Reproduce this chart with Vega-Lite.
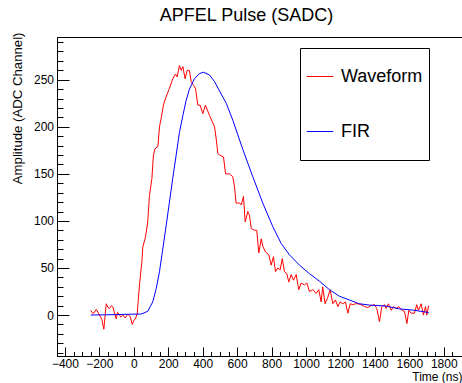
{
  "$schema": "https://vega.github.io/schema/vega-lite/v6.json",
  "width": 405,
  "height": 319,
  "autosize": {"type": "none"},
  "padding": {"left": 57, "top": 37, "right": 0, "bottom": 27},
  "title": {"text": "APFEL Pulse (SADC)", "fontSize": 18, "fontWeight": "normal", "font": "Liberation Sans", "color": "#000", "anchor": "middle", "frame": "group", "dx": -13, "dy": 19, "offset": 12, "baseline": "alphabetic"},
  "config": {
    "font": "Liberation Sans",
    "view": {"stroke": "#000", "strokeWidth": 1},
    "axis": {"grid": false, "domainColor": "#000", "tickColor": "#000", "labelColor": "#000", "titleColor": "#000", "labelFont": "Liberation Sans", "titleFont": "Liberation Sans", "labelFontSize": 12, "titleFontSize": 12, "titleFontWeight": "normal"}
  },
  "datasets": {
    "pulse": [
      {"t": -250, "v": 5, "series": "Waveform"},
      {"t": -240, "v": 2, "series": "Waveform"},
      {"t": -232, "v": 2, "series": "Waveform"},
      {"t": -218, "v": 6, "series": "Waveform"},
      {"t": -199, "v": 0, "series": "Waveform"},
      {"t": -185, "v": -5, "series": "Waveform"},
      {"t": -174, "v": -15, "series": "Waveform"},
      {"t": -160, "v": 12, "series": "Waveform"},
      {"t": -150, "v": 8, "series": "Waveform"},
      {"t": -141, "v": 7, "series": "Waveform"},
      {"t": -130, "v": 10, "series": "Waveform"},
      {"t": -122, "v": 9, "series": "Waveform"},
      {"t": -112, "v": 2, "series": "Waveform"},
      {"t": -102, "v": -4, "series": "Waveform"},
      {"t": -95, "v": 3, "series": "Waveform"},
      {"t": -87, "v": 1, "series": "Waveform"},
      {"t": -75, "v": -2, "series": "Waveform"},
      {"t": -64, "v": 0, "series": "Waveform"},
      {"t": -50, "v": -3, "series": "Waveform"},
      {"t": -35, "v": 1, "series": "Waveform"},
      {"t": -20, "v": -2, "series": "Waveform"},
      {"t": -9, "v": -10, "series": "Waveform"},
      {"t": 0, "v": -6, "series": "Waveform"},
      {"t": 12, "v": -3, "series": "Waveform"},
      {"t": 20, "v": 2, "series": "Waveform"},
      {"t": 33, "v": 32, "series": "Waveform"},
      {"t": 47, "v": 57, "series": "Waveform"},
      {"t": 52, "v": 72, "series": "Waveform"},
      {"t": 68, "v": 83, "series": "Waveform"},
      {"t": 81, "v": 99, "series": "Waveform"},
      {"t": 91, "v": 127, "series": "Waveform"},
      {"t": 105, "v": 145, "series": "Waveform"},
      {"t": 114, "v": 170, "series": "Waveform"},
      {"t": 124, "v": 177, "series": "Waveform"},
      {"t": 140, "v": 179, "series": "Waveform"},
      {"t": 149, "v": 200, "series": "Waveform"},
      {"t": 159, "v": 209, "series": "Waveform"},
      {"t": 172, "v": 223, "series": "Waveform"},
      {"t": 188, "v": 232, "series": "Waveform"},
      {"t": 207, "v": 241, "series": "Waveform"},
      {"t": 226, "v": 251, "series": "Waveform"},
      {"t": 242, "v": 256, "series": "Waveform"},
      {"t": 252, "v": 253, "series": "Waveform"},
      {"t": 265, "v": 265, "series": "Waveform"},
      {"t": 275, "v": 260, "series": "Waveform"},
      {"t": 285, "v": 264, "series": "Waveform"},
      {"t": 298, "v": 251, "series": "Waveform"},
      {"t": 310, "v": 260, "series": "Waveform"},
      {"t": 323, "v": 260, "series": "Waveform"},
      {"t": 333, "v": 248, "series": "Waveform"},
      {"t": 347, "v": 244, "series": "Waveform"},
      {"t": 358, "v": 241, "series": "Waveform"},
      {"t": 372, "v": 223, "series": "Waveform"},
      {"t": 385, "v": 223, "series": "Waveform"},
      {"t": 401, "v": 214, "series": "Waveform"},
      {"t": 416, "v": 223, "series": "Waveform"},
      {"t": 440, "v": 212, "series": "Waveform"},
      {"t": 469, "v": 200, "series": "Waveform"},
      {"t": 478, "v": 188, "series": "Waveform"},
      {"t": 488, "v": 172, "series": "Waveform"},
      {"t": 498, "v": 170, "series": "Waveform"},
      {"t": 521, "v": 168, "series": "Waveform"},
      {"t": 533, "v": 150, "series": "Waveform"},
      {"t": 556, "v": 150, "series": "Waveform"},
      {"t": 575, "v": 147, "series": "Waveform"},
      {"t": 585, "v": 136, "series": "Waveform"},
      {"t": 594, "v": 119, "series": "Waveform"},
      {"t": 614, "v": 119, "series": "Waveform"},
      {"t": 624, "v": 117, "series": "Waveform"},
      {"t": 637, "v": 126, "series": "Waveform"},
      {"t": 647, "v": 99, "series": "Waveform"},
      {"t": 662, "v": 110, "series": "Waveform"},
      {"t": 672, "v": 106, "series": "Waveform"},
      {"t": 682, "v": 92, "series": "Waveform"},
      {"t": 701, "v": 90, "series": "Waveform"},
      {"t": 714, "v": 90, "series": "Waveform"},
      {"t": 726, "v": 66, "series": "Waveform"},
      {"t": 740, "v": 81, "series": "Waveform"},
      {"t": 749, "v": 73, "series": "Waveform"},
      {"t": 765, "v": 67, "series": "Waveform"},
      {"t": 784, "v": 64, "series": "Waveform"},
      {"t": 798, "v": 53, "series": "Waveform"},
      {"t": 811, "v": 62, "series": "Waveform"},
      {"t": 823, "v": 46, "series": "Waveform"},
      {"t": 836, "v": 50, "series": "Waveform"},
      {"t": 850, "v": 48, "series": "Waveform"},
      {"t": 862, "v": 60, "series": "Waveform"},
      {"t": 875, "v": 46, "series": "Waveform"},
      {"t": 889, "v": 44, "series": "Waveform"},
      {"t": 900, "v": 35, "series": "Waveform"},
      {"t": 914, "v": 43, "series": "Waveform"},
      {"t": 927, "v": 37, "series": "Waveform"},
      {"t": 943, "v": 43, "series": "Waveform"},
      {"t": 958, "v": 27, "series": "Waveform"},
      {"t": 972, "v": 34, "series": "Waveform"},
      {"t": 991, "v": 32, "series": "Waveform"},
      {"t": 1005, "v": 34, "series": "Waveform"},
      {"t": 1020, "v": 25, "series": "Waveform"},
      {"t": 1040, "v": 27, "series": "Waveform"},
      {"t": 1059, "v": 23, "series": "Waveform"},
      {"t": 1074, "v": 27, "series": "Waveform"},
      {"t": 1088, "v": 14, "series": "Waveform"},
      {"t": 1097, "v": 30, "series": "Waveform"},
      {"t": 1111, "v": 12, "series": "Waveform"},
      {"t": 1127, "v": 19, "series": "Waveform"},
      {"t": 1140, "v": 27, "series": "Waveform"},
      {"t": 1156, "v": 12, "series": "Waveform"},
      {"t": 1171, "v": 16, "series": "Waveform"},
      {"t": 1185, "v": 9, "series": "Waveform"},
      {"t": 1198, "v": 14, "series": "Waveform"},
      {"t": 1214, "v": 12, "series": "Waveform"},
      {"t": 1229, "v": 14, "series": "Waveform"},
      {"t": 1243, "v": 2, "series": "Waveform"},
      {"t": 1257, "v": 12, "series": "Waveform"},
      {"t": 1272, "v": 11, "series": "Waveform"},
      {"t": 1287, "v": 12, "series": "Waveform"},
      {"t": 1301, "v": 12, "series": "Waveform"},
      {"t": 1320, "v": 11, "series": "Waveform"},
      {"t": 1340, "v": 9, "series": "Waveform"},
      {"t": 1359, "v": 8, "series": "Waveform"},
      {"t": 1378, "v": 10, "series": "Waveform"},
      {"t": 1398, "v": 11, "series": "Waveform"},
      {"t": 1411, "v": 7, "series": "Waveform"},
      {"t": 1427, "v": -7, "series": "Waveform"},
      {"t": 1440, "v": 9, "series": "Waveform"},
      {"t": 1456, "v": 11, "series": "Waveform"},
      {"t": 1465, "v": 7, "series": "Waveform"},
      {"t": 1479, "v": 12, "series": "Waveform"},
      {"t": 1495, "v": 5, "series": "Waveform"},
      {"t": 1508, "v": 9, "series": "Waveform"},
      {"t": 1524, "v": 7, "series": "Waveform"},
      {"t": 1539, "v": 9, "series": "Waveform"},
      {"t": 1558, "v": 5, "series": "Waveform"},
      {"t": 1572, "v": 4, "series": "Waveform"},
      {"t": 1586, "v": -9, "series": "Waveform"},
      {"t": 1597, "v": 5, "series": "Waveform"},
      {"t": 1611, "v": 2, "series": "Waveform"},
      {"t": 1630, "v": 2, "series": "Waveform"},
      {"t": 1643, "v": 11, "series": "Waveform"},
      {"t": 1653, "v": 5, "series": "Waveform"},
      {"t": 1669, "v": 12, "series": "Waveform"},
      {"t": 1682, "v": 0, "series": "Waveform"},
      {"t": 1694, "v": 9, "series": "Waveform"},
      {"t": 1702, "v": 0, "series": "Waveform"},
      {"t": 1712, "v": 10, "series": "Waveform"},
      {"t": -250, "v": 0, "series": "FIR"},
      {"t": -100, "v": 0.5, "series": "FIR"},
      {"t": 0, "v": 1, "series": "FIR"},
      {"t": 40, "v": 1, "series": "FIR"},
      {"t": 55, "v": 2, "series": "FIR"},
      {"t": 81, "v": 4, "series": "FIR"},
      {"t": 110, "v": 14, "series": "FIR"},
      {"t": 130, "v": 28, "series": "FIR"},
      {"t": 149, "v": 46, "series": "FIR"},
      {"t": 169, "v": 71, "series": "FIR"},
      {"t": 188, "v": 95, "series": "FIR"},
      {"t": 207, "v": 120, "series": "FIR"},
      {"t": 226, "v": 145, "series": "FIR"},
      {"t": 246, "v": 170, "series": "FIR"},
      {"t": 265, "v": 194, "series": "FIR"},
      {"t": 285, "v": 212, "series": "FIR"},
      {"t": 304, "v": 228, "series": "FIR"},
      {"t": 323, "v": 240, "series": "FIR"},
      {"t": 352, "v": 251, "series": "FIR"},
      {"t": 381, "v": 256.5, "series": "FIR"},
      {"t": 405, "v": 258, "series": "FIR"},
      {"t": 440, "v": 255, "series": "FIR"},
      {"t": 469, "v": 248, "series": "FIR"},
      {"t": 498, "v": 238, "series": "FIR"},
      {"t": 537, "v": 225, "series": "FIR"},
      {"t": 575, "v": 207, "series": "FIR"},
      {"t": 633, "v": 176, "series": "FIR"},
      {"t": 691, "v": 147, "series": "FIR"},
      {"t": 749, "v": 119, "series": "FIR"},
      {"t": 807, "v": 94, "series": "FIR"},
      {"t": 856, "v": 76, "series": "FIR"},
      {"t": 904, "v": 64, "series": "FIR"},
      {"t": 962, "v": 53, "series": "FIR"},
      {"t": 1020, "v": 44, "series": "FIR"},
      {"t": 1078, "v": 36, "series": "FIR"},
      {"t": 1136, "v": 27, "series": "FIR"},
      {"t": 1194, "v": 20, "series": "FIR"},
      {"t": 1252, "v": 16, "series": "FIR"},
      {"t": 1310, "v": 12, "series": "FIR"},
      {"t": 1368, "v": 10.6, "series": "FIR"},
      {"t": 1466, "v": 9.5, "series": "FIR"},
      {"t": 1543, "v": 6.5, "series": "FIR"},
      {"t": 1620, "v": 5.3, "series": "FIR"},
      {"t": 1713, "v": 2.7, "series": "FIR"}
    ]
  },
  "data": {"name": "pulse"},
  "resolve": {"axis": {"x": "independent", "y": "independent"}},
  "layer": [
    {
      "mark": {"type": "line", "strokeWidth": 1, "interpolate": "linear"},
      "encoding": {
        "x": {"field": "t", "type": "quantitative", "scale": {"domain": [-446, 1906], "nice": false, "zero": false},
          "axis": {"orient": "bottom", "values": [-400, -200, 0, 200, 400, 600, 800, 1000, 1200, 1400, 1600, 1800], "format": "d", "tickSize": -9, "labelPadding": 11, "labelFlush": false, "labelOverlap": false, "title": "Time (ns)", "titleAnchor": "end", "titleAlign": "right", "titleBaseline": "alphabetic", "titleX": 405, "titleY": 24}},
        "y": {"field": "v", "type": "quantitative", "scale": {"domain": [-43.5, 295.4], "nice": false, "zero": false},
          "axis": {"orient": "left", "values": [0, 50, 100, 150, 200, 250], "format": "d", "tickSize": -12, "labelPadding": 15.5, "labelFlush": false, "title": "Amplitude (ADC Channel)", "titleFontSize": 13.2, "titleAnchor": "end", "titleAlign": "right", "titleAngle": -90, "titleBaseline": "alphabetic", "titleX": -35.5, "titleY": -5}},
        "color": {"field": "series", "type": "nominal", "scale": {"domain": ["Waveform", "FIR"], "range": ["#ff0000", "#0000ff"]},
          "legend": {"orient": "none", "legendX": 243, "legendY": 11, "title": null, "strokeColor": "#000", "fillColor": "#fff", "padding": 6, "symbolType": "stroke", "symbolSize": 712, "symbolStrokeWidth": 1, "labelFontSize": 18, "labelFont": "Liberation Sans", "labelColor": "#000", "labelOffset": 7, "clipHeight": 45, "rowPadding": 10, "labelExpr": "datum.label + '      '"}}
      }
    },
    {
      "mark": {"type": "line", "opacity": 0},
      "encoding": {
        "x": {"field": "t", "type": "quantitative", "scale": {"domain": [-446, 1906], "nice": false, "zero": false},
          "axis": {"orient": "bottom", "values": [-400, -350, -300, -250, -200, -150, -100, -50, 0, 50, 100, 150, 200, 250, 300, 350, 400, 450, 500, 550, 600, 650, 700, 750, 800, 850, 900, 950, 1000, 1050, 1100, 1150, 1200, 1250, 1300, 1350, 1400, 1450, 1500, 1550, 1600, 1650, 1700, 1750, 1800, 1850], "tickSize": -4.5, "labels": false, "domain": false, "title": null}},
        "y": {"field": "v", "type": "quantitative", "scale": {"domain": [-43.5, 295.4], "nice": false, "zero": false},
          "axis": {"orient": "left", "values": [-40, -30, -20, -10, 0, 10, 20, 30, 40, 50, 60, 70, 80, 90, 100, 110, 120, 130, 140, 150, 160, 170, 180, 190, 200, 210, 220, 230, 240, 250, 260, 270, 280, 290], "tickSize": -6, "labels": false, "domain": false, "title": null}}
      }
    }
  ]
}
